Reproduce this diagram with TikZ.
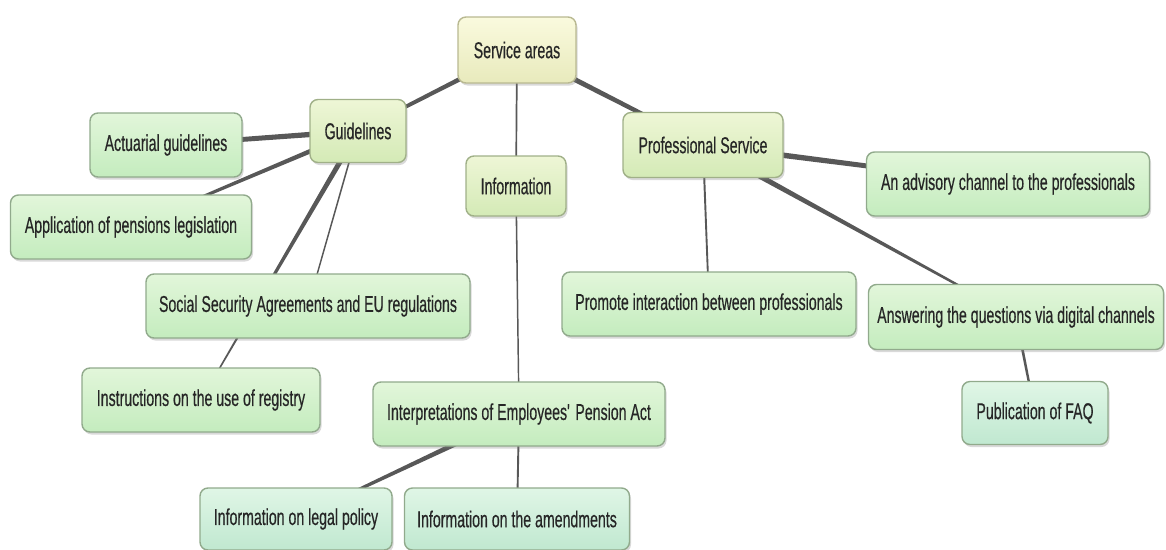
\documentclass[tikz,border=0pt]{standalone}
\usepackage{fontspec}
\setmainfont{Liberation Sans}[FakeStretch=0.615,FakeBold=0.4]
\usetikzlibrary{calc,shadows,backgrounds}

\definecolor{edgegray}{RGB}{88,88,88}
\definecolor{leaftop}{RGB}{226,246,218}
\definecolor{leafbot}{RGB}{196,236,190}
\definecolor{leafline}{RGB}{145,170,140}
\definecolor{midtop}{RGB}{238,246,214}
\definecolor{midbot}{RGB}{212,234,182}
\definecolor{midline}{RGB}{160,176,136}
\definecolor{roottop}{RGB}{250,250,222}
\definecolor{rootbot}{RGB}{232,234,188}
\definecolor{rootline}{RGB}{185,185,145}
\definecolor{minttop}{RGB}{224,246,230}
\definecolor{mintbot}{RGB}{192,232,208}

\tikzset{
  box/.style={rectangle, rounded corners=8pt, line width=1.4pt,
    inner sep=0pt, align=center, font=\fontsize{23}{25}\selectfont,
    text=black!85,
    drop shadow={shadow xshift=1.5pt, shadow yshift=-2.5pt, opacity=0.3}},
  rootbox/.style={box, draw=rootline, top color=roottop, bottom color=rootbot},
  midbox/.style={box, draw=midline, top color=midtop, bottom color=midbot},
  leafbox/.style={box, draw=leafline, top color=leaftop, bottom color=leafbot},
  mintbox/.style={box, draw=leafline, top color=minttop, bottom color=mintbot},
}

% tapered branch: from node #1 (half width #3) to node #2 (half width #4)
\newcommand\branch[4]{%
  \fill[edgegray] ($(#1)!#3!90:(#2)$) -- ($(#2)!#4!-90:(#1)$)
    -- ($(#2)!#4!90:(#1)$) -- ($(#1)!#3!-90:(#2)$) -- cycle;}

\begin{document}
\begin{tikzpicture}[x=1pt,y=-1pt]
\useasboundingbox (0,0) rectangle (1166,549);

\node[rootbox, minimum width=118pt, minimum height=66pt] (root) at (517,50) {Service areas};

\node[midbox, minimum width=96pt, minimum height=63pt] (guide) at (358,131) {Guidelines};
\node[midbox, minimum width=100pt, minimum height=60pt] (info) at (516,186) {Information};
\node[midbox, minimum width=160pt, minimum height=65pt] (prof) at (703,145) {Professional Service};

\node[leafbox, minimum width=152pt, minimum height=64pt] (actu) at (166,145) {Actuarial guidelines};
\node[leafbox, minimum width=241pt, minimum height=64pt] (appl) at (131,227) {Application of pensions legislation};
\node[leafbox, minimum width=324pt, minimum height=64pt] (social) at (308,306) {Social Security Agreements and EU regulations};
\node[leafbox, minimum width=238pt, minimum height=64pt] (instr) at (201,400) {Instructions on the use of registry};

\node[leafbox, minimum width=292pt, minimum height=64pt] (interp) at (519,414) {Interpretations of Employees\textquotesingle\ Pension Act};
\node[mintbox, minimum width=192pt, minimum height=62pt] (legal) at (296,519) {Information on legal policy};
\node[mintbox, minimum width=225pt, minimum height=62pt] (amend) at (517,519) {Information on the amendments};

\node[leafbox, minimum width=283pt, minimum height=64pt] (advis) at (1008,184) {An advisory channel to the professionals};
\node[leafbox, minimum width=294pt, minimum height=64pt] (promo) at (709,304) {Promote interaction between professionals};
\node[leafbox, minimum width=295pt, minimum height=65pt] (answ) at (1016,317) {Answering the questions via digital channels};
\node[mintbox, minimum width=146pt, minimum height=63pt] (faq) at (1035,413) {Publication of FAQ};

\begin{pgfonlayer}{background}
  \branch{root}{guide}{2.6pt}{1.6pt}
  \branch{root}{info}{0.9pt}{0.8pt}
  \branch{root}{prof}{2.8pt}{1.8pt}
  \branch{guide}{actu}{2.8pt}{2.2pt}
  \branch{guide}{appl}{2.6pt}{1.0pt}
  \branch{guide}{social}{0.8pt}{0.7pt}
  \branch{guide}{instr}{2.8pt}{0.5pt}
  \branch{info}{interp}{0.8pt}{0.7pt}
  \branch{interp}{legal}{3.0pt}{1.0pt}
  \branch{interp}{amend}{1.0pt}{0.9pt}
  \branch{prof}{advis}{3.0pt}{2.0pt}
  \branch{prof}{promo}{1.0pt}{0.9pt}
  \branch{prof}{answ}{3.0pt}{0.8pt}
  \branch{answ}{faq}{1.4pt}{1.1pt}
\end{pgfonlayer}
\end{tikzpicture}
\end{document}
